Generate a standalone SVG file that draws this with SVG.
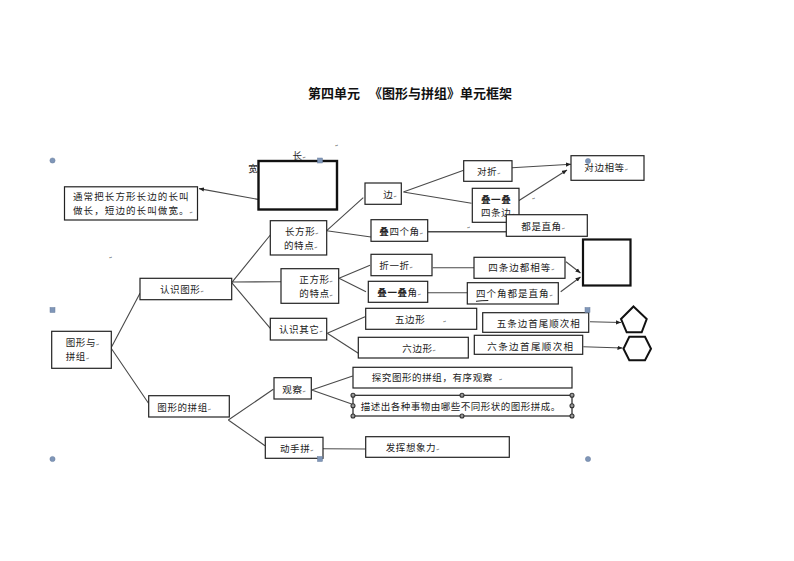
<svg xmlns="http://www.w3.org/2000/svg" width="794" height="561" viewBox="0 0 794 561">
<style>
text{font-family:"Noto Sans CJK SC","DejaVu Sans",sans-serif;font-size:9.5px;letter-spacing:.6px;fill:#222}
.m{font-family:"DejaVu Sans",sans-serif;font-size:4px;letter-spacing:0;fill:#666}
.b{font-weight:700}
.title{font-size:13px;letter-spacing:0;font-weight:700;fill:#111}
.box rect,rect.n{fill:#fff;stroke:#222;stroke-width:1.2}
.shape{fill:#fff;stroke:#111}
#connectors path{fill:none;stroke:#4a4a4a;stroke-width:1.1}
#connectors path.a{marker-end:url(#arr)}
.hc{fill:#7f96b8;stroke:#6b7f9e;stroke-width:.5}
.hs{fill:#7f96b8;stroke:#6b7f9e;stroke-width:.5}
.sel{fill:#999;stroke:#333;stroke-width:1.1}
</style>
<defs>
<marker id="arr" markerUnits="userSpaceOnUse" markerWidth="6" markerHeight="6" refX="5" refY="2.5" orient="auto"><path d="M0 0.4L5 2.5L0 4.6Z" fill="#222"/></marker>
<circle id="sh" r="2" class="sel"/>
</defs>
<rect width="794" height="561" fill="#fff"/>
<text id="title" class="title" x="308" y="98">第四单元<tspan x="369">《图形与拼组》单元框架</tspan></text>
<g id="connectors">
<path class="a" d="M258 199.4L199 188.6"/>
<path d="M111 348L140 293.3M111 348L148.5 403.3"/>
<path d="M231.7 282.7L270.3 235M231.7 282L281 281.7M231.7 282.7L270.3 328.3"/>
<path d="M326.7 230.7L363.3 197.7M326.7 230.7L371 237"/>
<path d="M403.3 192L463.7 170.3M403.3 192L471.5 203.3"/>
<path class="a" d="M512 167.7L571 164.3"/>
<path class="a" d="M516.7 202L567 170"/>
<path d="M427.7 231.8L506.3 231.7" style="stroke-width:1.5"/>
<path d="M339 278.3L370 265.3M339 278.3L366 291.7"/>
<path d="M432.7 267.7L474 267.7M427.7 292.7L467.3 292.7"/>
<path class="a" d="M566 261.7L580.5 273"/>
<path class="a" d="M560.7 291.7L580.5 277"/>
<path d="M327.3 333.3L365 316.7M327.3 333.3L358.3 353.3"/>
<path d="M311.7 390L352.7 376M311.7 390L351.7 404"/>
<path d="M228.3 420L273.3 389.3M228.3 420L265 445.7"/>
<path d="M323 448.7L365.7 449"/>
<path class="a" d="M590 321.7L621 322.5"/>
<path class="a" d="M583.3 346.7L622.5 348"/>
</g>
<g id="shape-rect"><rect class="shape" x="258.5" y="161" width="78.5" height="48.5" stroke-width="2.4"/></g>
<g id="shape-square"><rect class="shape" x="583" y="239.5" width="47.5" height="46" stroke-width="2.2"/></g>
<g id="shape-pentagon"><path class="shape" stroke-width="2" d="M633.5 306.5L646.7 319L641.7 332.3H626.7L621 319Z"/></g>
<g id="shape-hexagon"><path class="shape" stroke-width="2" d="M623.5 348.7L629.3 336.7H645L651 348.7L645 360.3H629.3Z"/></g>
<g id="label-chang"><text x="292.5" y="159">长<tspan class="m">↵</tspan></text></g>
<g id="label-kuan"><text x="248.3" y="172">宽</text></g>
<g id="note" class="box"><rect x="64.5" y="186.8" width="133" height="33.2"/><text x="73" y="200" style="letter-spacing:1.1px">通常把长方形长边的长叫</text><text x="73" y="214" style="letter-spacing:1.1px">做长，短边的长叫做宽。<tspan class="m">↵</tspan></text></g>
<g id="n-root" class="box"><rect x="51.7" y="331.3" width="59.6" height="37"/><text x="65.7" y="345.5">图形与<tspan class="m">↵</tspan></text><text x="65.7" y="359.5">拼组<tspan class="m">↵</tspan></text></g>
<g id="n-renshi" class="box"><rect x="140" y="278.3" width="91.7" height="21.4"/><text x="160" y="292.5">认识图形<tspan class="m">↵</tspan></text></g>
<g id="n-pinzu" class="box"><rect x="148.7" y="395.7" width="80.6" height="21.3"/><text x="157.3" y="410.5">图形的拼组<tspan class="m">↵</tspan></text></g>
<g id="n-cfx" class="box"><rect x="270.3" y="220.7" width="56.4" height="34.3"/><text x="285" y="234.5">长方形<tspan class="m">↵</tspan></text><text x="284" y="248.5">的特点<tspan class="m">↵</tspan></text></g>
<g id="n-zfx" class="box"><rect x="281" y="268.7" width="57.7" height="34.6"/><text x="299.3" y="283">正方形<tspan class="m">↵</tspan></text><text x="299.3" y="296.5">的特点<tspan class="m">↵</tspan></text></g>
<g id="n-qita" class="box"><rect x="270.3" y="318.3" width="56.4" height="21.7"/><text x="279" y="333">认识其它<tspan class="m">↵</tspan></text></g>
<g id="n-guancha" class="box"><rect x="274" y="377.7" width="37.3" height="21.3"/><text x="282.3" y="392.7">观察<tspan class="m">↵</tspan></text></g>
<g id="n-dongshou" class="box"><rect x="265.3" y="437.3" width="57.7" height="21"/><text x="280" y="451.5">动手拼<tspan class="m">↵</tspan></text></g>
<g id="n-bian" class="box"><rect x="365" y="183" width="36.3" height="21.3"/><text x="383.3" y="198">边<tspan class="m">↵</tspan></text></g>
<g id="n-duizhe" class="box"><rect x="463.7" y="160.7" width="48.3" height="20.6"/><text x="477" y="174.5">对折<tspan class="m">↵</tspan></text></g>
<g id="n-dieyidie" class="box"><rect x="472.3" y="188.3" width="46.7" height="34"/><text class="b" x="481" y="203">叠一叠</text><text x="481" y="215.5">四条边<tspan class="m">↵</tspan></text></g>
<g id="n-duibian" class="box"><rect x="571" y="155.7" width="73" height="24.6"/><text x="584.3" y="171">对边相等<tspan class="m">↵</tspan></text></g>
<g id="n-sijiao" class="box"><rect x="371" y="219.7" width="56.7" height="21.6"/><text x="379.3" y="234.5"><tspan class="b">叠</tspan>四个角<tspan class="m">↵</tspan></text></g>
<g id="n-zhijiao" class="box"><rect x="506.3" y="214.7" width="81" height="21.6"/><text x="521.3" y="229.5">都是直角<tspan class="m">↵</tspan></text></g>
<g id="n-zheyizhe" class="box"><rect x="371" y="254.3" width="61" height="21.4"/><text x="379.3" y="268.7">折一折<tspan class="m">↵</tspan></text></g>
<g id="n-sibian" class="box"><rect x="474" y="257.3" width="91" height="21"/><text x="488.3" y="271" style="letter-spacing:1px">四条边都相等<tspan class="m">↵</tspan></text></g>
<g id="n-diejiao" class="box"><rect x="368.3" y="281.3" width="59.4" height="21"/><text x="377.3" y="296"><tspan class="b">叠一叠</tspan>角<tspan class="m">↵</tspan></text></g>
<g id="n-sijiaozhi" class="box"><rect x="467.3" y="282.7" width="91" height="21.3"/><text x="476" y="297" style="letter-spacing:1px">四个角都是直角<tspan class="m">↵</tspan></text><path d="M476 301.3Q482 300.5 488.3 300.5" fill="none" stroke="#222" stroke-width="1"/></g>
<g id="n-wu" class="box"><rect x="365.7" y="308.3" width="111" height="21"/><text x="395" y="323">五边形</text><text class="m" x="443" y="323">↵</text></g>
<g id="n-liu" class="box"><rect x="358.3" y="337.3" width="110" height="20.7"/><text x="402.3" y="351.5">六边形<tspan class="m">↵</tspan></text></g>
<g id="n-wutiao" class="box"><rect x="482.7" y="312.7" width="106" height="19.6"/><text x="496.7" y="327" style="letter-spacing:1px">五条边首尾顺次相</text></g>
<g id="n-liutiao" class="box"><rect x="474.3" y="335.3" width="108.4" height="19"/><text x="487.3" y="349.8" style="letter-spacing:1.4px">六条边首尾顺次相</text></g>
<g id="n-tanjiu" class="box"><rect x="353" y="367.3" width="219" height="20.7"/><text x="371.7" y="381">探究图形的拼组，有序观察<tspan class="m" dx="6">↵</tspan></text></g>
<g id="n-miaoshu" class="box"><rect x="353" y="395.3" width="219" height="20.7"/><text x="360.7" y="409.5" style="letter-spacing:.5px">描述出各种事物由哪些不同形状的图形拼成。</text>
<use href="#sh" x="353" y="395.3"/><use href="#sh" x="462" y="395.3"/><use href="#sh" x="572" y="395.3"/><use href="#sh" x="353" y="405.7"/><use href="#sh" x="572" y="405.7"/><use href="#sh" x="353" y="416"/><use href="#sh" x="462" y="416"/><use href="#sh" x="572" y="416"/></g>
<g id="n-fahui" class="box"><rect x="365.7" y="436.7" width="143.6" height="20.6"/><text x="385.7" y="451">发挥想象力<tspan class="m">↵</tspan></text></g>
<g id="marks"><text class="m" x="335" y="147">↵</text><text class="m" x="109" y="259">↵</text><text class="m" x="532" y="200">↵</text><text class="m" x="467" y="229">↵</text></g>
<g id="handles">
<circle class="hc" cx="52.5" cy="160.5" r="2.6"/><circle class="hc" cx="52.5" cy="459" r="2.6"/><circle class="hc" cx="588" cy="459" r="2.6"/><circle class="hc" cx="588" cy="161" r="2.6"/>
<rect class="hs" x="50" y="307.5" width="5" height="5"/><rect class="hs" x="317.5" y="158" width="5" height="5"/><rect class="hs" x="585" y="307.5" width="5" height="5"/><rect class="hs" x="317.5" y="456.5" width="5" height="5"/>
</g>
</svg>
